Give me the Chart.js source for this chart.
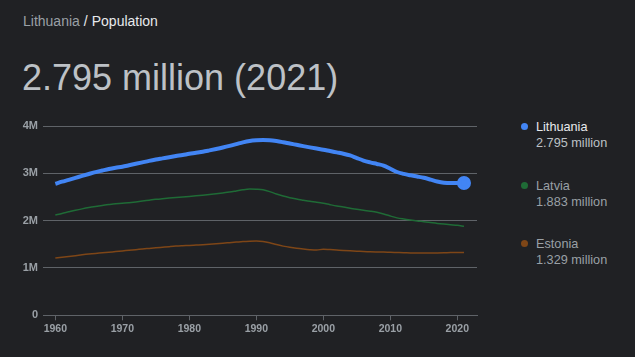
<!DOCTYPE html>
<html>
<head>
<meta charset="utf-8">
<script src="https://cdn.jsdelivr.net/npm/chart.js@4"></script>
<style>
  html,body{margin:0;padding:0;background:#202124;width:635px;height:357px;overflow:hidden;font-family:"Liberation Sans",Arial,sans-serif;}
  #crumb{position:absolute;left:23px;top:13px;font-size:14px;line-height:16px;white-space:nowrap;}
  #crumb .a{color:#9aa0a6;}
  #crumb .s{color:#e8eaed;margin:0 4px;}
  #crumb .b{color:#e8eaed;}
  #title{position:absolute;left:22px;top:58px;font-size:36px;line-height:40px;color:#bdc1c6;white-space:nowrap;}
  #chartbox{position:absolute;left:0;top:110px;width:490px;height:240px;}
  .lg{position:absolute;left:536px;font-size:12.7px;line-height:16px;white-space:nowrap;}
  .lg .dot{position:absolute;left:-15px;top:4px;width:7px;height:7px;border-radius:50%;}
  .lg .n{color:#9aa0a6;}
  .lg .v{color:#9aa0a6;}
  .lg.sel .n{color:#e8eaed;}
  .lg.sel .v{color:#bdc1c6;}
</style>
</head>
<body>
<div id="crumb"><span class="a">Lithuania</span><span class="s">/</span><span class="b">Population</span></div>
<div id="title"></div>
<div id="chartbox"><canvas id="c" width="490" height="240"></canvas></div>
<div id="legend"></div>
<script>
const years = [1960,1961,1962,1963,1964,1965,1966,1967,1968,1969,
  1970,1971,1972,1973,1974,1975,1976,1977,1978,1979,
  1980,1981,1982,1983,1984,1985,1986,1987,1988,1989,
  1990,1991,1992,1993,1994,1995,1996,1997,1998,1999,
  2000,2001,2002,2003,2004,2005,2006,2007,2008,2009,
  2010,2011,2012,2013,2014,2015,2016,2017,2018,2019,
  2020,2021];

const lithuania = [2779000,2823000,2863000,2904000,2946000,2986000,3025000,3059000,3092000,3118000,
  3140000,3170000,3201000,3232000,3263000,3291000,3316000,3341000,3365000,3387000,
  3413000,3433000,3457000,3485000,3514000,3545000,3579000,3616000,3655000,3684000,
  3698000,3704000,3700000,3682000,3657000,3629000,3602000,3575000,3549000,3524000,
  3500000,3471000,3443000,3415000,3378000,3323000,3270000,3231000,3198000,3163000,
  3097000,3028000,2988000,2958000,2932000,2905000,2868000,2828000,2802000,2794000,
  2795000,2795000];

const latvia = [2121000,2152000,2186000,2219000,2249000,2276000,2299000,2320000,2340000,2357000,
  2366000,2380000,2396000,2413000,2432000,2450000,2465000,2478000,2490000,2500000,
  2512000,2525000,2539000,2554000,2570000,2586000,2604000,2628000,2653000,2667000,
  2663000,2651000,2614000,2563000,2520000,2485000,2457000,2433000,2410000,2391000,
  2368000,2338000,2310000,2288000,2263000,2239000,2218000,2200000,2177000,2141000,
  2097000,2059000,2034000,2013000,1994000,1978000,1960000,1942000,1927000,1914000,
  1901000,1883000];

const estonia = [1211000,1225000,1241000,1258000,1277000,1294000,1308000,1320000,1333000,1347000,
  1360000,1374000,1387000,1401000,1414000,1427000,1439000,1451000,1462000,1470000,
  1477000,1485000,1493000,1502000,1512000,1523000,1535000,1547000,1559000,1566000,
  1569000,1561000,1533000,1494000,1462000,1436000,1415000,1399000,1386000,1379000,
  1397000,1388000,1379000,1370000,1362000,1355000,1347000,1341000,1338000,1336000,
  1331000,1327000,1323000,1318000,1315000,1315000,1316000,1317000,1321000,1327000,
  1329000,1329000];

const seriesNames = ['Lithuania','Latvia','Estonia'];
const seriesLatest = ['2.795 million','1.883 million','1.329 million'];
const headline = '2.795 million (2021)';
const xTickYears = [1960,1970,1980,1990,2000,2010,2020];
const yTickValues = [0,1000000,2000000,3000000,4000000];
const yTickLabels = ['0','1M','2M','3M','4M'];

const colors = ['#4285f4','#1f6b36','#7e4617'];
const legendTops = [118.5, 178, 236];

document.getElementById('title').textContent = headline;
const lgEl = document.getElementById('legend');
seriesNames.forEach((n,i)=>{
  const d = document.createElement('div');
  d.className = 'lg' + (i===0?' sel':'');
  d.style.top = legendTops[i]+'px';
  d.innerHTML = '<span class="dot" style="background:'+colors[i]+'"></span><div class="n"></div><div class="v"></div>';
  d.querySelector('.n').textContent = n;
  d.querySelector('.v').textContent = seriesLatest[i];
  lgEl.appendChild(d);
});

function pts(arr){ return years.map((y,i)=>({x:y,y:arr[i]})); }

const gridColor = '#5f6368';
new Chart(document.getElementById('c'), {
  type:'line',
  data:{
    datasets:[
      {label:seriesNames[0], data:pts(lithuania), borderColor:colors[0], backgroundColor:colors[0], borderWidth:4,
        pointRadius: years.map((y,i)=> i===years.length-1 ? 5 : 0), pointHoverRadius:0, cubicInterpolationMode:'monotone', order:0},
      {label:seriesNames[1], data:pts(latvia), borderColor:colors[1], backgroundColor:colors[1], borderWidth:1.5,
        pointRadius:0, cubicInterpolationMode:'monotone', order:1},
      {label:seriesNames[2], data:pts(estonia), borderColor:colors[2], backgroundColor:colors[2], borderWidth:1.5,
        pointRadius:0, cubicInterpolationMode:'monotone', order:2}
    ]
  },
  options:{
    responsive:false, animation:false, events:[],
    layout:{padding:{left:0,right:13,top:16,bottom:4.7}},
    plugins:{legend:{display:false}, tooltip:{enabled:false}},
    scales:{
      x:{type:'linear', min:1958.16, max:2022.94,
        afterBuildTicks:(s)=>{ s.ticks = xTickYears.map(v=>({value:v})); },
        afterFit:(s)=>{ s.height = 30; },
        grid:{drawOnChartArea:false, drawTicks:true, tickLength:5, color:gridColor},
        border:{display:true, color:gridColor, width:1},
        ticks:{color:'#9aa0a6', padding:3, maxRotation:0, font:{family:'"Liberation Sans", Arial', size:10.5, weight:'bold'},
          callback:(v)=>String(v)}
      },
      y:{min:0, max:4000000,
        afterBuildTicks:(s)=>{ s.ticks = yTickValues.map(v=>({value:v})); },
        afterFit:(s)=>{ s.width = 43; },
        grid:{color:gridColor, drawTicks:false, lineWidth:1},
        border:{display:false},
        ticks:{color:'#9aa0a6', padding:5, font:{family:'"Liberation Sans", Arial', size:11, weight:'bold'},
          callback:(v)=>yTickLabels[yTickValues.indexOf(v)]}
      }
    }
  }
});
</script>
</body>
</html>
